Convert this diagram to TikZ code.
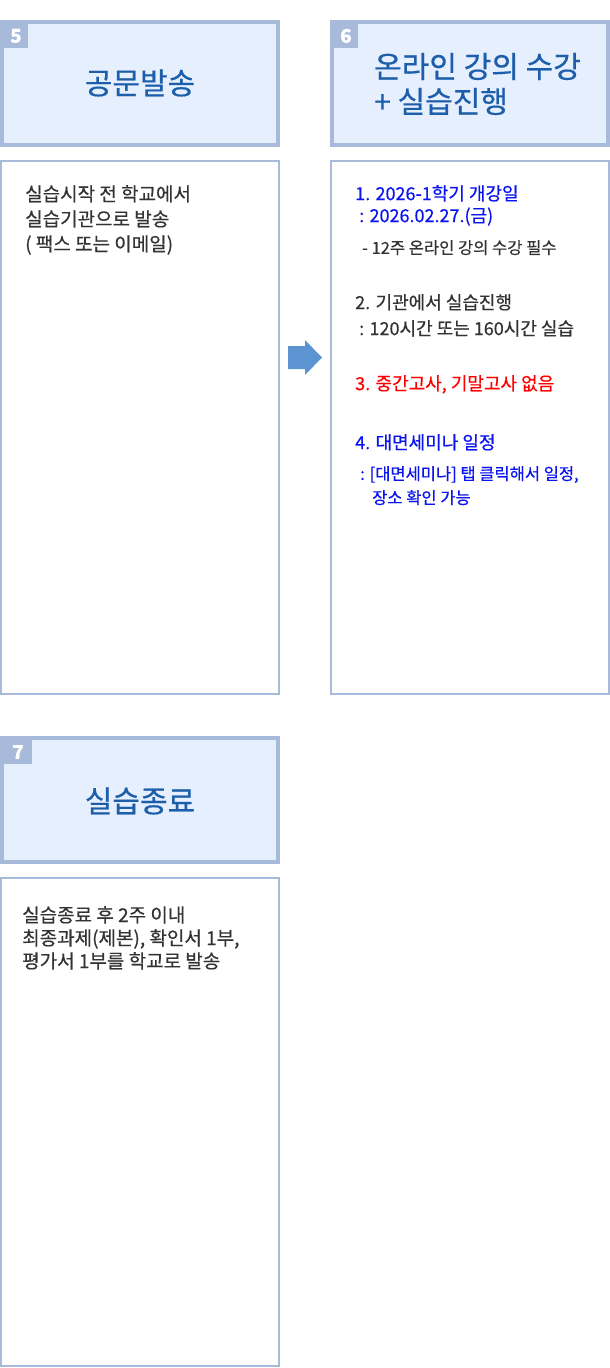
\documentclass[tikz,border=0pt]{standalone}
\usepackage{fontspec}
\setmainfont{Noto Sans CJK KR}[FakeBold=0.5]

\definecolor{frameblue}{HTML}{A8BADA}
\definecolor{headfill}{HTML}{E6EFFD}
\definecolor{titleblue}{HTML}{1D5EAB}
\definecolor{arrowblue}{HTML}{5B94D1}
\definecolor{textgray}{HTML}{333333}
\definecolor{itemblue}{HTML}{0A14F0}
\definecolor{itemred}{HTML}{FF0000}

\tikzset{
  headbox/.style={draw=frameblue, line width=4pt, fill=headfill, minimum width=276pt, minimum height=123pt, inner sep=0pt},
  bodybox/.style={draw=frameblue, line width=2pt, fill=white, minimum width=278pt, inner sep=0pt},
  numtab/.style={fill=frameblue, text=white, font=\fontsize{19}{19}\selectfont\bfseries, inner sep=0pt, minimum width=24pt, minimum height=24pt},
  headtitle/.style={text=titleblue, font=\fontsize{30}{35}\selectfont, inner sep=0pt},
  bodytext/.style={text=textgray, font=\fontsize{19}{25}\selectfont, align=left, anchor=north west, inner sep=0pt},
  itemtext/.style={font=\fontsize{18}{22}\selectfont, align=left, anchor=north west, inner sep=0pt}
}

\begin{document}
\begin{tikzpicture}[x=1pt,y=-1pt]
    \useasboundingbox (0,0) rectangle (610,1368);

    % step 5
    \node [headbox] (head5) at (140,83.5) {};
    \node [numtab] (tab5) at (16,36) {5};
    \node [headtitle] (title5) at (140,83) {공문발송};
    \node [bodybox, minimum height=533pt] (body5) at (140,427.5) {};
    \node [bodytext] (text5) at (25,185) {실습시작 전 학교에서\\실습기관으로 발송\\( 팩스 또는 이메일)};

    % step 6
    \node [headbox] (head6) at (470,83.5) {};
    \node [numtab] (tab6) at (346,36) {6};
    \node [headtitle, align=left, anchor=west] (title6) at (374,84) {온라인 강의 수강\\+ 실습진행};
    \node [bodybox, minimum height=533pt] (body6) at (470,427.5) {};
    \node [itemtext, text=itemblue] (item1) at (355,185) {1. 2026-1학기 개강일\\\hspace{4pt}: 2026.02.27.(금)};
    \node [itemtext, text=textgray, font=\fontsize{16.5}{22}\selectfont] (sub1) at (362,240) {- 12주 온라인 강의 수강 필수};
    \node [itemtext, text=textgray, font=\fontsize{18}{26}\selectfont] (item2) at (355,294) {2. 기관에서 실습진행\\\hspace{4pt}: 120시간 또는 160시간 실습};
    \node [itemtext, text=itemred] (item3) at (355,375) {3. 중간고사, 기말고사 없음};
    \node [itemtext, text=itemblue] (item4) at (355,434) {4. 대면세미나 일정};
    \node [itemtext, text=itemblue, font=\fontsize{16.5}{24}\selectfont] (sub4) at (360,466) {: [대면세미나] 탭 클릭해서 일정,\\\hspace{12pt}장소 확인 가능};

    % arrow from 5 to 6
    \fill [arrowblue] (288,346) -- (305,346) -- (305,340) -- (322,357.5) -- (305,375) -- (305,369) -- (288,369) -- cycle;

    % step 7
    \node [headbox, minimum height=124pt] (head7) at (140,800) {};
    \node [numtab, minimum width=28pt] (tab7) at (18,752) {7};
    \node [headtitle] (title7) at (140,801) {실습종료};
    \node [bodybox, minimum height=488pt] (body7) at (140,1122) {};
    \node [bodytext, font=\fontsize{19}{23}\selectfont] (text7) at (22,906) {실습종료 후 2주 이내\\최종과제(제본), 확인서 1부,\\평가서 1부를 학교로 발송};
\end{tikzpicture}
\end{document}
